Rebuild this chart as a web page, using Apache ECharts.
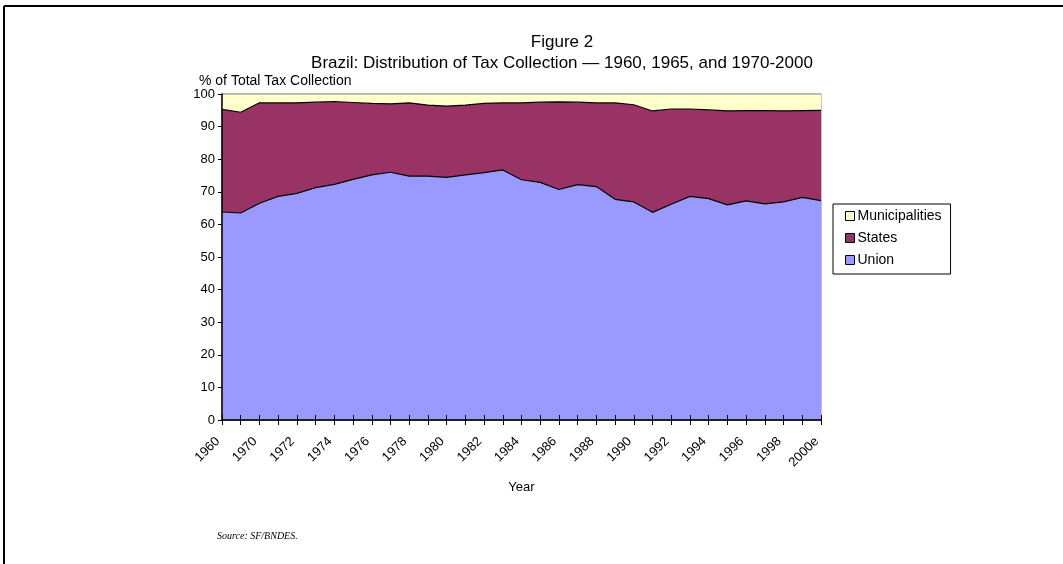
<!DOCTYPE html>
<html>
<head>
<meta charset="utf-8">
<script src="https://cdn.jsdelivr.net/npm/echarts@6/dist/echarts.min.js"></script>
<style>html,body{margin:0;padding:0;background:#fff}#c{width:1063px;height:564px}</style>
</head>
<body>
<div id="c"></div>
<script>
const years = ['1960','1965','1970','1971','1972','1973','1974','1975','1976','1977','1978','1979','1980','1981','1982','1983','1984','1985','1986','1987','1988','1989','1990','1991','1992','1993','1994','1995','1996','1997','1998','1999','2000e'];
const union = [63.8,63.5,66.5,68.6,69.5,71.3,72.3,73.8,75.2,76.0,74.8,74.8,74.4,75.2,75.9,76.7,73.7,72.9,70.7,72.2,71.6,67.7,66.9,63.7,66.2,68.6,67.9,66.0,67.2,66.3,66.9,68.3,67.3];
const states = [31.5,30.9,30.8,28.7,27.8,26.2,25.4,23.6,21.9,21.0,22.5,21.8,21.9,21.4,21.2,20.6,23.6,24.6,26.9,25.3,25.7,29.6,29.8,31.1,29.2,26.8,27.2,28.8,27.7,28.6,27.9,26.6,27.7];
const municipalities = [4.7,5.6,2.7,2.7,2.7,2.5,2.3,2.6,2.9,3.0,2.7,3.4,3.7,3.4,2.9,2.7,2.7,2.5,2.4,2.5,2.7,2.7,3.3,5.2,4.6,4.6,4.9,5.2,5.1,5.1,5.2,5.1,5.0];
const yTicks = [0,10,20,30,40,50,60,70,80,90,100];

const FONT = 'Liberation Sans, Arial, sans-serif';
const chart = echarts.init(document.getElementById('c'), null, {renderer: 'canvas'});
chart.setOption({
  animation: false,
  backgroundColor: '#fff',
  title: [
    {text: 'Figure 2', left: 557, top: 29, textAlign: 'center',
     textStyle: {fontFamily: FONT, fontSize: 17, fontWeight: 'normal', color: '#000'}},
    {text: 'Brazil: Distribution of Tax Collection \u2014 1960, 1965, and 1970-2000', left: 557, top: 50, textAlign: 'center',
     textStyle: {fontFamily: FONT, fontSize: 17, fontWeight: 'normal', color: '#000'}}
  ],
  graphic: [
    {type: 'line', shape: {x1: 4, y1: 6, x2: 1063, y2: 6}, style: {stroke: '#000', lineWidth: 2}},
    {type: 'line', shape: {x1: 4, y1: 6, x2: 4, y2: 564}, style: {stroke: '#000', lineWidth: 2}},
    {type: 'text', left: 199, top: 74, style: {text: '% of Total Tax Collection', font: '14px ' + FONT, fill: '#000'}},
    {type: 'text', left: 217, top: 531, style: {text: 'Source: SF/BNDES.', font: 'italic 10px Liberation Serif, Times New Roman, serif', fill: '#000'}}
  ],
  legend: {
    orient: 'vertical', left: 833, top: 204,
    data: ['Municipalities', 'States', 'Union'],
    icon: 'rect', itemWidth: 9, itemHeight: 9, itemGap: 8,
    padding: [5, 9, 7, 12],
    borderColor: '#000', borderWidth: 1,
    textStyle: {fontFamily: FONT, fontSize: 14, color: '#000', padding: [0, 0, 0, -2]},
    itemStyle: {borderColor: '#000', borderWidth: 1}
  },
  grid: {left: 222, right: 242, top: 94, bottom: 144, show: true, borderColor: '#888', borderWidth: 1, backgroundColor: 'transparent'},
  xAxis: [
    {
      type: 'category', data: years, boundaryGap: false,
      name: 'Year', nameLocation: 'middle', nameGap: 61,
      nameTextStyle: {fontFamily: FONT, fontSize: 13, color: '#000'},
      axisLine: {lineStyle: {color: '#222', width: 2}},
      axisTick: {interval: 0, length: 5, lineStyle: {color: '#000'}},
      axisLabel: {interval: 1, rotate: 45, fontFamily: FONT, fontSize: 13, color: '#000', margin: 15, padding: [0, 6, 0, 0]},
      splitLine: {show: false}, z: 5
    },
    {
      type: 'category', data: years, boundaryGap: false, position: 'bottom',
      axisLine: {show: false},
      axisTick: {interval: 0, inside: true, length: 5, lineStyle: {color: '#000'}},
      axisLabel: {show: false},
      splitLine: {show: false}, z: 6
    }
  ],
  yAxis: {
    type: 'value', min: 0, max: 100, interval: 10,
    axisLine: {show: true, lineStyle: {color: '#000', width: 1.5}},
    axisTick: {show: true, length: 4, lineStyle: {color: '#000'}},
    axisLabel: {fontFamily: FONT, fontSize: 13, color: '#000', margin: 7,
      formatter: v => yTicks.includes(v) ? String(v) : ''},
    splitLine: {show: false}, z: 5
  },
  series: [
    {name: 'Union', type: 'line', stack: 'total', data: union, symbol: 'none',
     lineStyle: {color: '#000', width: 1.2}, areaStyle: {color: '#9999FF', opacity: 1},
     itemStyle: {color: '#9999FF'}},
    {name: 'States', type: 'line', stack: 'total', data: states, symbol: 'none',
     lineStyle: {color: '#000', width: 1.2}, areaStyle: {color: '#993366', opacity: 1},
     itemStyle: {color: '#993366'}},
    {name: 'Municipalities', type: 'line', stack: 'total', data: municipalities, symbol: 'none',
     lineStyle: {color: '#888', width: 1}, areaStyle: {color: '#FFFFCC', opacity: 1},
     itemStyle: {color: '#FFFFCC'}}
  ]
});
</script>
</body>
</html>
